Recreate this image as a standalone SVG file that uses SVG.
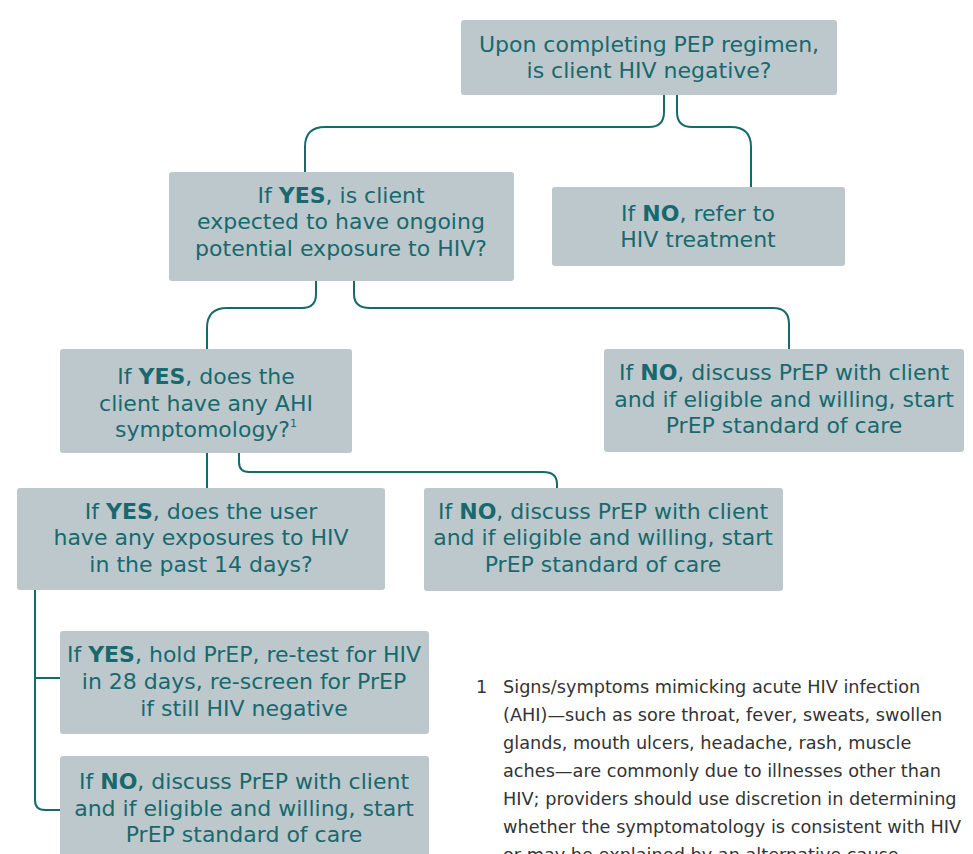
<svg xmlns="http://www.w3.org/2000/svg" width="973" height="854" viewBox="0 0 973 854">
<style>
.box{fill:#bdc8cc;}
.t{font-family:"DejaVu Sans","Open Sans",sans-serif;font-size:22px;fill:#17696e;text-anchor:middle;}
.b{font-weight:bold;}
.c{fill:none;stroke:#17696e;stroke-width:2;}
.fn{font-family:"DejaVu Sans","Open Sans",sans-serif;font-size:17.7px;fill:#333;}
</style>
<rect width="973" height="854" fill="#fff"/>
<g id="connectors">
<path class="c" d="M664,95 V112 Q664,127 649,127 H325 Q305,127 305,147 V172"/>
<path class="c" d="M677,95 V112 Q677,127 692,127 H731 Q751,127 751,147 V187"/>
<path class="c" d="M316,281 V294 Q316,308 302,308 H227 Q207,308 207,328 V349"/>
<path class="c" d="M354,281 V294 Q354,308 370,308 H773 Q789,308 789,324 V349"/>
<path class="c" d="M207,453 V488"/>
<path class="c" d="M239,453 V462 Q239,472 249,472 H543 Q557,472 557,484 V488"/>
<path class="c" d="M35,590 V800 Q35,810 45,810 H60 M35,678 H60"/>
</g>
<g id="n1"><rect class="box" x="461" y="20" width="376" height="75" rx="3"/>
<text class="t" x="649" y="52">Upon completing PEP regimen,</text>
<text class="t" x="649" y="78">is client HIV negative?</text></g>
<g id="n2"><rect class="box" x="169" y="172" width="345" height="109" rx="3"/>
<text class="t" x="341" y="203">If <tspan class="b">YES</tspan>, is client</text>
<text class="t" x="341" y="229">expected to have ongoing</text>
<text class="t" x="341" y="256">potential exposure to HIV?</text></g>
<g id="n3"><rect class="box" x="552" y="187" width="293" height="79" rx="3"/>
<text class="t" x="698" y="221">If <tspan class="b">NO</tspan>, refer to</text>
<text class="t" x="698" y="247">HIV treatment</text></g>
<g id="n4"><rect class="box" x="60" y="349" width="292" height="104" rx="3"/>
<text class="t" x="206" y="384">If <tspan class="b">YES</tspan>, does the</text>
<text class="t" x="206" y="411">client have any AHI</text>
<text class="t" x="206" y="437">symptomology?<tspan font-size="11" dy="-10">1</tspan></text></g>
<g id="n5"><rect class="box" x="604" y="349" width="360" height="103" rx="3"/>
<text class="t" x="784" y="380">If <tspan class="b">NO</tspan>, discuss PrEP with client</text>
<text class="t" x="784" y="407">and if eligible and willing, start</text>
<text class="t" x="784" y="433">PrEP standard of care</text></g>
<g id="n6"><rect class="box" x="17" y="488" width="368" height="102" rx="3"/>
<text class="t" x="201" y="519">If <tspan class="b">YES</tspan>, does the user</text>
<text class="t" x="201" y="545">have any exposures to HIV</text>
<text class="t" x="201" y="572">in the past 14 days?</text></g>
<g id="n7"><rect class="box" x="424" y="488" width="359" height="103" rx="3"/>
<text class="t" x="603" y="519">If <tspan class="b">NO</tspan>, discuss PrEP with client</text>
<text class="t" x="603" y="545">and if eligible and willing, start</text>
<text class="t" x="603" y="572">PrEP standard of care</text></g>
<g id="n8"><rect class="box" x="60" y="631" width="369" height="103" rx="3"/>
<text class="t" x="244" y="662">If <tspan class="b">YES</tspan>, hold PrEP, re-test for HIV</text>
<text class="t" x="244" y="689">in 28 days, re-screen for PrEP</text>
<text class="t" x="244" y="716">if still HIV negative</text></g>
<g id="n9"><rect class="box" x="60" y="756" width="369" height="110" rx="3"/>
<text class="t" x="244" y="789">If <tspan class="b">NO</tspan>, discuss PrEP with client</text>
<text class="t" x="244" y="816">and if eligible and willing, start</text>
<text class="t" x="244" y="842">PrEP standard of care</text></g>
<g id="footnote">
<text class="fn" x="476" y="693">1</text>
<text class="fn" x="503" y="693">Signs/symptoms mimicking acute HIV infection</text>
<text class="fn" x="503" y="721">(AHI)—such as sore throat, fever, sweats, swollen</text>
<text class="fn" x="503" y="749">glands, mouth ulcers, headache, rash, muscle</text>
<text class="fn" x="503" y="777">aches—are commonly due to illnesses other than</text>
<text class="fn" x="503" y="805">HIV; providers should use discretion in determining</text>
<text class="fn" x="503" y="833">whether the symptomatology is consistent with HIV</text>
<text class="fn" x="503" y="861">or may be explained by an alternative cause.</text>
</g>
</svg>
